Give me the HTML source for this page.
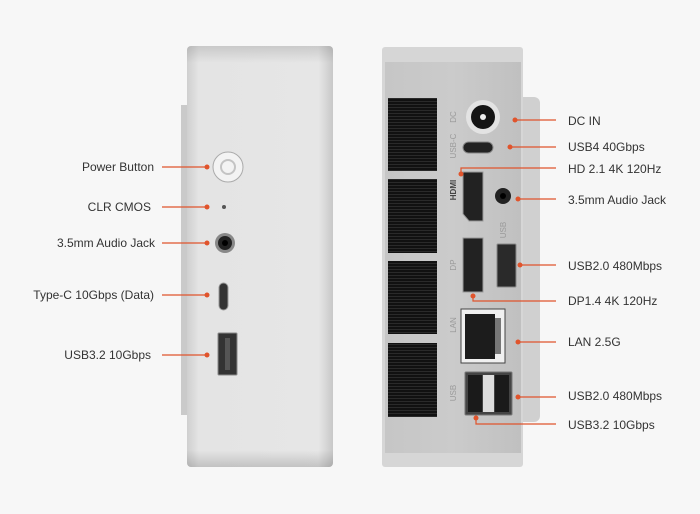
<!DOCTYPE html>
<html><head><meta charset="utf-8"><style>
html,body{margin:0;padding:0;background:#f7f7f7;}
svg{display:block;}
text{font-family:"Liberation Sans",sans-serif;font-size:12px;fill:#333;}
.v{font-size:8px;fill:#9a9a9a;}
</style></head><body>
<svg width="700" height="514" viewBox="0 0 700 514" xmlns="http://www.w3.org/2000/svg">
<defs>
<linearGradient id="lf" x1="0" x2="1"><stop offset="0" stop-color="#cfcfcf"/><stop offset="0.08" stop-color="#e4e4e4"/><stop offset="0.9" stop-color="#e6e6e6"/><stop offset="1" stop-color="#c8c8c8"/></linearGradient>
<linearGradient id="lv" x1="0" y1="0" x2="0" y2="1"><stop offset="0" stop-color="#000" stop-opacity="0.12"/><stop offset="0.04" stop-color="#000" stop-opacity="0"/><stop offset="0.96" stop-color="#000" stop-opacity="0"/><stop offset="1" stop-color="#000" stop-opacity="0.15"/></linearGradient>
<linearGradient id="rf" x1="0" x2="1"><stop offset="0" stop-color="#c6c6c6"/><stop offset="0.5" stop-color="#cbcbcb"/><stop offset="1" stop-color="#c0c0c0"/></linearGradient>
<pattern id="vent" width="3" height="3" patternUnits="userSpaceOnUse"><rect width="3" height="3" fill="#111"/><rect y="2" width="3" height="1" fill="#2a2a2a"/></pattern>
</defs>
<rect width="700" height="514" fill="#f7f7f7"/>
<!-- left device -->
<rect x="181" y="105" width="10" height="310" fill="#cacaca"/>
<rect x="187" y="46" width="146" height="421" rx="4" fill="url(#lf)"/>
<rect x="187" y="46" width="146" height="421" rx="4" fill="url(#lv)"/>
<circle cx="228" cy="167" r="15" fill="#f3f3f3" stroke="#aaa" stroke-width="1"/>
<circle cx="228" cy="167" r="7" fill="none" stroke="#c4c4c4" stroke-width="2"/>
<circle cx="224" cy="207" r="2" fill="#555"/>
<circle cx="225" cy="243" r="10" fill="#888"/>
<circle cx="225" cy="243" r="7" fill="#222"/>
<circle cx="225" cy="243" r="3" fill="#000"/>
<rect x="219" y="283" width="9" height="27" rx="4.5" fill="#333" stroke="#999"/>
<rect x="218" y="333" width="19" height="42" rx="1" fill="#333" stroke="#888"/>
<rect x="225" y="338" width="5" height="32" fill="#555"/>
<!-- right device -->
<rect x="515" y="97" width="25" height="325" rx="6" fill="#d0d0d0"/>
<rect x="382" y="47" width="141" height="420" rx="3" fill="#d6d6d6"/>
<rect x="385" y="62" width="136" height="391" fill="url(#rf)"/>
<rect x="388" y="98" width="49" height="73" fill="url(#vent)"/>
<rect x="388" y="179" width="49" height="74" fill="url(#vent)"/>
<rect x="388" y="261" width="49" height="73" fill="url(#vent)"/>
<rect x="388" y="343" width="49" height="74" fill="url(#vent)"/>
<circle cx="483" cy="117" r="17" fill="#e3e3e3"/>
<circle cx="483" cy="117" r="12" fill="#151515"/>
<circle cx="483" cy="117" r="3" fill="#eee"/>
<rect x="463" y="142" width="30" height="11" rx="5.5" fill="#222" stroke="#888"/>
<path d="M463 172 H483 V221 H469 L463 214 V179 Z" fill="#222" stroke="#999"/>
<circle cx="503" cy="196" r="8" fill="#222"/>
<circle cx="503" cy="196" r="3" fill="#000"/>
<path d="M463 238 H483 V292 H463 V245 Z" fill="#222" stroke="#999"/>
<rect x="497" y="244" width="19" height="43" rx="1" fill="#2a2a2a" stroke="#888"/>
<rect x="461" y="309" width="44" height="54" fill="#f0f0f0" stroke="#444"/>
<rect x="465" y="314" width="30" height="45" fill="#1c1c1c"/>
<rect x="495" y="318" width="6" height="36" fill="#777"/>
<rect x="465" y="372" width="47" height="43" rx="1" fill="#444" stroke="#777"/>
<rect x="468" y="375" width="14" height="37" fill="#1a1a1a"/>
<rect x="495" y="375" width="14" height="37" fill="#1a1a1a"/>
<rect x="483" y="375" width="11" height="37" fill="#ddd"/>
<text class="v" transform="translate(456,117) rotate(-90)" text-anchor="middle">DC</text>
<text class="v" transform="translate(456,146) rotate(-90)" text-anchor="middle">USB-C</text>
<text class="v" transform="translate(456,190) rotate(-90)" text-anchor="middle" style="font-weight:bold;fill:#444">HDMI</text>
<text class="v" transform="translate(456,265) rotate(-90)" text-anchor="middle">DP</text>
<text class="v" transform="translate(506,230) rotate(-90)" text-anchor="middle">USB</text>
<text class="v" transform="translate(456,325) rotate(-90)" text-anchor="middle">LAN</text>
<text class="v" transform="translate(456,393) rotate(-90)" text-anchor="middle">USB</text>
<!-- connectors -->
<g stroke="#e0542c" stroke-width="1.2" fill="none">
<path d="M162 167 H207"/><path d="M162 207 H207"/><path d="M162 243 H207"/><path d="M162 295 H207"/><path d="M162 355 H207"/>
<path d="M515 120 H556"/><path d="M510 147 H556"/><path d="M461 174 V168 H556"/><path d="M518 199 H556"/>
<path d="M520 265 H556"/><path d="M473 296 V301 H556"/><path d="M518 342 H556"/><path d="M518 397 H556"/><path d="M476 418 V424 H556"/>
</g>
<g fill="#e0542c">
<circle cx="207" cy="167" r="2.5"/><circle cx="207" cy="207" r="2.5"/><circle cx="207" cy="243" r="2.5"/><circle cx="207" cy="295" r="2.5"/><circle cx="207" cy="355" r="2.5"/>
<circle cx="515" cy="120" r="2.5"/><circle cx="510" cy="147" r="2.5"/><circle cx="461" cy="174" r="2.5"/><circle cx="518" cy="199" r="2.5"/>
<circle cx="520" cy="265" r="2.5"/><circle cx="473" cy="296" r="2.5"/><circle cx="518" cy="342" r="2.5"/><circle cx="518" cy="397" r="2.5"/><circle cx="476" cy="418" r="2.5"/>
</g>
<g text-anchor="end">
<text x="154" y="171">Power Button</text>
<text x="151" y="211">CLR CMOS</text>
<text x="155" y="247">3.5mm Audio Jack</text>
<text x="154" y="299">Type-C 10Gbps (Data)</text>
<text x="151" y="359">USB3.2 10Gbps</text>
</g>
<text x="568" y="125">DC IN</text>
<text x="568" y="151">USB4 40Gbps</text>
<text x="568" y="173">HD 2.1 4K 120Hz</text>
<text x="568" y="204">3.5mm Audio Jack</text>
<text x="568" y="270">USB2.0 480Mbps</text>
<text x="568" y="305">DP1.4 4K 120Hz</text>
<text x="568" y="346">LAN 2.5G</text>
<text x="568" y="400">USB2.0 480Mbps</text>
<text x="568" y="429">USB3.2 10Gbps</text>
</svg>
</body></html>
